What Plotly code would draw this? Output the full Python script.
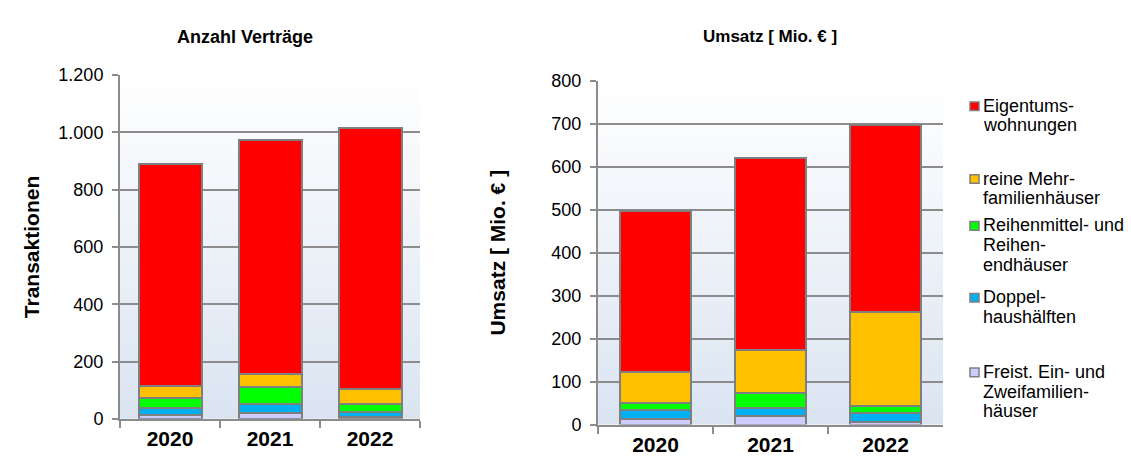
import plotly.graph_objects as go

# Jahre und Gebäudearten
years = ["2020", "2021", "2022"]
categories = [
    "Freist. Ein- und Zweifamilienhäuser",
    "Doppelhaushälften",
    "Reihenmittel- und Reihenendhäuser",
    "reine Mehrfamilienhäuser",
    "Eigentumswohnungen",
]
legend_lines = [
    ["Freist. Ein- und", "Zweifamilien-", "häuser"],
    ["Doppel-", "haushälften"],
    ["Reihenmittel- und", "Reihen-", "endhäuser"],
    ["reine Mehr-", "familienhäuser"],
    ["Eigentums-", "wohnungen"],
]
colors = ["#ccccff", "#00b0f0", "#00ff00", "#ffc000", "#ff0000"]

# Anzahl Verträge je Jahr (Stapel von unten nach oben)
count_freist = [14, 21, 7]
count_doppel = [25, 31, 16]
count_reihen = [32, 58, 30]
count_mfh = [45, 45, 52]
count_etw = [775, 819, 909]

# Umsatz in Mio. Euro je Jahr
sales_freist = [14, 20, 5]
sales_doppel = [19, 19, 22]
sales_reihen = [18, 34, 17]
sales_mfh = [72, 101, 219]
sales_etw = [374, 446, 435]

count_series = [count_freist, count_doppel, count_reihen, count_mfh, count_etw]
sales_series = [sales_freist, sales_doppel, sales_reihen, sales_mfh, sales_etw]

FONT = "Liberation Sans, Arial, sans-serif"
GRID = "#8c8c8c"

fig = go.Figure()

for name, col, vals in zip(categories, colors, count_series):
    fig.add_trace(go.Bar(
        x=years, y=vals, name=name, xaxis="x", yaxis="y",
        marker=dict(color=col, line=dict(color="#7f7f7f", width=2)),
        width=0.63, showlegend=False,
    ))
for name, col, vals in zip(categories, colors, sales_series):
    fig.add_trace(go.Bar(
        x=years, y=vals, name=name, xaxis="x2", yaxis="y2",
        marker=dict(color=col, line=dict(color="#7f7f7f", width=2)),
        width=0.62, showlegend=False,
    ))

W, H = 1131, 470
L_dom_x = [120 / W, 420 / W]
L_dom_y = [43 / H, 402 / H]
R_dom_x = [598 / W, 943 / W]
R_dom_y = [37 / H, 396 / H]

# Hintergrundverlauf (weiß oben, hellblau unten) in beiden Diagrammflächen
shapes = []
n_steps = 60
top_rgb = (255, 255, 255)
bot_rgb = (218, 228, 241)
for xr, yr in (("x domain", "y domain"), ("x2 domain", "y2 domain")):
    for i in range(n_steps):
        t = (i + 0.5) / n_steps
        r = round(bot_rgb[0] + (top_rgb[0] - bot_rgb[0]) * t)
        g = round(bot_rgb[1] + (top_rgb[1] - bot_rgb[1]) * t)
        b = round(bot_rgb[2] + (top_rgb[2] - bot_rgb[2]) * t)
        shapes.append(dict(
            type="rect", xref=xr, yref=yr, layer="below",
            x0=0, x1=1, y0=i / n_steps, y1=(i + 1) / n_steps + 0.002,
            fillcolor=f"rgb({r},{g},{b})", line=dict(width=0),
        ))

# Legende: Farbquadrate und zeilenweise Beschriftungen
legend_y = [378, 300, 225, 176, 100]  # Pixelhöhe der ersten Zeile je Eintrag
LINE_H = 20.5
annotations = []
for lines, col, py in zip(legend_lines, colors, legend_y):
    shapes.append(dict(
        type="rect", xref="paper", yref="paper",
        x0=970 / W, x1=979 / W, y0=1 - (py + 5) / H, y1=1 - (py - 4) / H,
        fillcolor=col, line=dict(color="#7f7f7f", width=1.5),
    ))
    for k, line in enumerate(lines):
        annotations.append(dict(
            text=line, xref="paper", yref="paper",
            x=981 / W, y=1 - (py + k * LINE_H) / H,
            xanchor="left", yanchor="middle", showarrow=False, align="left",
            font=dict(family=FONT, size=18, color="#000000"),
        ))

annotations += [
    dict(text="<b>Anzahl Verträge</b>", xref="paper", yref="paper",
         x=245 / W, y=1 - 28 / H, xanchor="center", yanchor="middle",
         showarrow=False, font=dict(family=FONT, size=18, color="#000000")),
    dict(text="<b>Umsatz [ Mio. € ]</b>", xref="paper", yref="paper",
         x=770 / W, y=1 - 28 / H, xanchor="center", yanchor="middle",
         showarrow=False, font=dict(family=FONT, size=17, color="#000000")),
]

axis_common_x = dict(
    type="category", showline=True, linecolor=GRID, linewidth=2,
    ticks="outside", tickson="boundaries", ticklen=7, tickcolor=GRID, tickwidth=2,
    tickfont=dict(family=FONT, size=21, color="#000000"),
    showgrid=False, fixedrange=True,
)
axis_common_y = dict(
    showline=True, linecolor=GRID, linewidth=2,
    ticks="outside", ticklen=6, tickcolor=GRID, tickwidth=2,
    showgrid=True, gridcolor=GRID, gridwidth=2,
    tickfont=dict(family=FONT, size=18, color="#000000"),
    zeroline=False, fixedrange=True, ticklabelstandoff=5,
)

fig.update_layout(
    width=W, height=H,
    margin=dict(l=0, r=0, t=0, b=0),
    paper_bgcolor="#ffffff", plot_bgcolor="rgba(0,0,0,0)",
    barmode="stack", bargap=0.37,
    separators=",.",
    font=dict(family=FONT, color="#000000"),
    shapes=shapes, annotations=annotations,
    xaxis=dict(domain=L_dom_x, anchor="y", **axis_common_x,
               tickvals=years, ticktext=[f"<b>{y}</b>" for y in years]),
    yaxis=dict(domain=L_dom_y, anchor="x", range=[0, 1200], dtick=200,
               tickformat=",d",
               title=dict(text="<b>Transaktionen</b>", standoff=13,
                          font=dict(family=FONT, size=21, color="#000000")),
               **axis_common_y),
    xaxis2=dict(domain=R_dom_x, anchor="y2", **axis_common_x,
                tickvals=years, ticktext=[f"<b>{y}</b>" for y in years]),
    yaxis2=dict(domain=R_dom_y, anchor="x2", range=[0, 800], dtick=100,
                title=dict(text="<b>Umsatz [ Mio. € ]</b>", standoff=40,
                           font=dict(family=FONT, size=21, color="#000000")),
                **axis_common_y),
)

fig.write_html("out.html")
